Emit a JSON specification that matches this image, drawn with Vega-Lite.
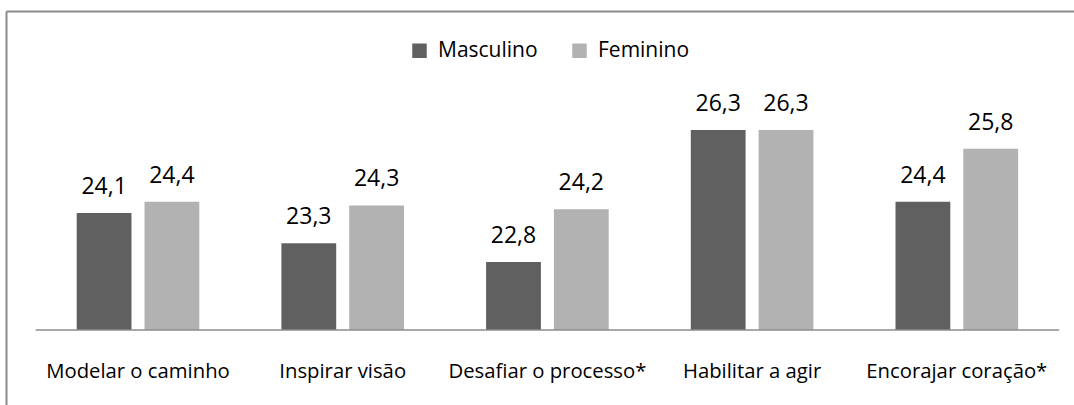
{
  "$schema": "https://vega.github.io/schema/vega-lite/v6.json",
  "width": 1078,
  "height": 404,
  "autosize": {"type": "none"},
  "padding": {"left": 6, "top": 11, "right": -10, "bottom": -10},
  "background": "white",
  "config": {
    "view": {"stroke": null},
    "font": "Open Sans",
    "locale": {"number": {"decimal": ",", "thousands": ".", "grouping": [3], "currency": ["", ""]}}
  },
  "resolve": {"axis": {"x": "independent"}},
  "datasets": {
    "medias": [
      {"categoria": "Modelar o caminho", "sexo": "Masculino", "valor": 24.1},
      {"categoria": "Modelar o caminho", "sexo": "Feminino", "valor": 24.4},
      {"categoria": "Inspirar visão", "sexo": "Masculino", "valor": 23.3},
      {"categoria": "Inspirar visão", "sexo": "Feminino", "valor": 24.3},
      {"categoria": "Desafiar o processo*", "sexo": "Masculino", "valor": 22.8},
      {"categoria": "Desafiar o processo*", "sexo": "Feminino", "valor": 24.2},
      {"categoria": "Habilitar a agir", "sexo": "Masculino", "valor": 26.3},
      {"categoria": "Habilitar a agir", "sexo": "Feminino", "valor": 26.3},
      {"categoria": "Encorajar coração*", "sexo": "Masculino", "valor": 24.4},
      {"categoria": "Encorajar coração*", "sexo": "Feminino", "valor": 25.8}
    ],
    "linha": [{"ini": "Modelar o caminho", "fim": "Encorajar coração*"}]
  },
  "layer": [
    {
      "data": {"name": "medias"},
      "mark": {"type": "bar"},
      "encoding": {
        "x": {
          "field": "categoria", "type": "nominal", "title": null,
          "scale": {"domain": ["Modelar o caminho", "Inspirar visão", "Desafiar o processo*", "Habilitar a agir", "Encorajar coração*"], "paddingInner": 0.401, "paddingOuter": 0.3336, "align": 0.5176},
          "axis": {"orient": "bottom", "offset": -85, "domain": false, "ticks": false, "tickSize": 0, "labelPadding": 47, "labelBaseline": "alphabetic", "labelFontSize": 20.3, "labelColor": "#000000", "labelAngle": 0, "labelFont": "Open Sans", "labelLimit": 0, "grid": false}
        },
        "xOffset": {"field": "sexo", "type": "nominal", "sort": ["Masculino", "Feminino"], "scale": {"paddingInner": 0.192, "paddingOuter": 0}},
        "y": {"field": "valor", "type": "quantitative", "scale": {"domain": [18.748, 29.453], "nice": false, "zero": false},
          "axis": {"orient": "left", "title": null, "labels": false, "ticks": false, "grid": false, "domain": true, "domainColor": "#8c8c8c", "domainWidth": 2, "tickCount": 0}},
        "y2": {"datum": 21},
        "color": {
          "field": "sexo", "type": "nominal", "sort": ["Masculino", "Feminino"],
          "scale": {"domain": ["Masculino", "Feminino"], "range": ["#606060", "#b2b2b2"]},
          "legend": {"orient": "none", "legendX": 403, "legendY": 29, "direction": "horizontal", "title": null, "symbolType": "square", "symbolSize": 210, "symbolStrokeWidth": 0, "labelFontSize": 21, "labelColor": "#000000", "labelOffset": 8, "columnPadding": 31, "padding": 0, "labelFont": "Open Sans"}
        }
      }
    },
    {
      "data": {"name": "linha"},
      "mark": {"type": "rule", "color": "#8c8c8c", "strokeWidth": 1.5},
      "encoding": {
        "x": {"field": "ini", "type": "nominal", "bandPosition": -0.3345,
          "axis": {"orient": "top", "title": null, "labels": false, "ticks": false, "grid": false, "domain": true, "domainColor": "#8c8c8c", "domainWidth": 2}},
        "x2": {"field": "fim", "bandPosition": 1.3345},
        "y": {"datum": 21}
      }
    },
    {
      "data": {"name": "medias"},
      "mark": {"type": "text", "fontSize": 23, "baseline": "alphabetic", "align": "center", "dy": -19, "color": "#000000", "font": "Open Sans"},
      "encoding": {
        "x": {"field": "categoria", "type": "nominal", "axis": null},
        "xOffset": {"field": "sexo", "type": "nominal", "sort": ["Masculino", "Feminino"]},
        "y": {"field": "valor", "type": "quantitative"},
        "text": {"field": "valor", "type": "quantitative", "format": ".1f"}
      }
    }
  ]
}
